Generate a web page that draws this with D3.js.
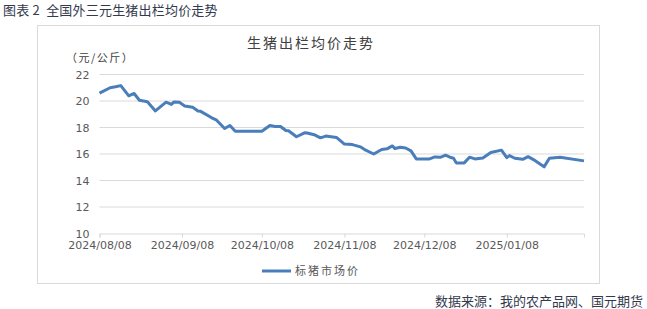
<!DOCTYPE html>
<html>
<head>
<meta charset="utf-8">
<script src="https://cdn.jsdelivr.net/npm/d3@7"></script>
<style>
  body { margin: 0; background: #fff; }
  svg { display: block; }
</style>
</head>
<body>
<svg id="chart" width="647" height="309"></svg>
<script>
// 标猪市场价 (元/公斤)
let dates = ["2024-08-08","2024-08-12","2024-08-14","2024-08-16","2024-08-19","2024-08-21","2024-08-23","2024-08-26","2024-08-29",
  "2024-09-02","2024-09-04","2024-09-05","2024-09-07","2024-09-09","2024-09-12","2024-09-14","2024-09-15","2024-09-19","2024-09-21",
  "2024-09-24","2024-09-26","2024-09-28","2024-10-08","2024-10-11","2024-10-13","2024-10-15","2024-10-17","2024-10-18","2024-10-19",
  "2024-10-21","2024-10-24","2024-10-25","2024-10-28","2024-10-30","2024-11-01","2024-11-05","2024-11-08","2024-11-11","2024-11-14",
  "2024-11-16","2024-11-19","2024-11-22","2024-11-24","2024-11-26","2024-11-27","2024-11-29","2024-12-01","2024-12-03","2024-12-05",
  "2024-12-10","2024-12-12","2024-12-14","2024-12-16","2024-12-18","2024-12-19","2024-12-20","2024-12-23","2024-12-25","2024-12-27",
  "2024-12-30","2025-01-02","2025-01-06","2025-01-08","2025-01-09","2025-01-11","2025-01-14","2025-01-16","2025-01-18","2025-01-22",
  "2025-01-24","2025-01-28","2025-02-06"]
let prices = [20.6,21.0,21.07,21.16,20.39,20.57,20.06,19.95,19.25,
  19.91,19.74,19.93,19.9,19.63,19.53,19.25,19.22,18.75,18.55,
  17.92,18.15,17.72,17.72,18.15,18.08,18.08,17.77,17.75,17.6,
  17.3,17.6,17.58,17.43,17.22,17.35,17.25,16.75,16.71,16.54,
  16.29,16.0,16.34,16.39,16.61,16.41,16.51,16.45,16.24,15.63,
  15.63,15.78,15.75,15.91,15.73,15.68,15.33,15.33,15.76,15.63,
  15.7,16.11,16.29,15.73,15.88,15.68,15.6,15.8,15.58,15.03,
  15.68,15.76,15.48]
let x_ticks = ["2024-08-08","2024-09-08","2024-10-08","2024-11-08","2024-12-08","2025-01-08"]
let y_ticks = [10,12,14,16,18,20,22]

let parse = d3.timeParse("%Y-%m-%d")
let data = dates.map((d, i) => ({date: parse(d), value: prices[i]}))

let svg = d3.select("#chart")
let cjk = "'Noto Sans CJK SC', sans-serif"

let plot_left = 99.5, plot_right = 584, plot_top = 74.5, plot_bottom = 233.5

let x_scale = d3.scaleTime([parse("2024-08-08"), parse("2025-02-06")], [plot_left, plot_right])
let y_scale = d3.scaleLinear([10, 22], [plot_bottom, plot_top])

// header + chart frame
svg.append("text")
  .attr("x", 3).attr("y", 15)
  .attr("font-family", cjk).attr("font-size", 13).attr("fill", "#333a4d")
  .attr("xml:space", "preserve").attr("letter-spacing", 0.2)
  .text("图表 2  全国外三元生猪出栏均价走势")

svg.append("rect")
  .attr("x", 37.5).attr("y", 25.5).attr("width", 562).attr("height", 258)
  .attr("fill", "#fff").attr("stroke", "#d9d9d9")

svg.append("text")
  .attr("x", 311).attr("y", 48)
  .attr("text-anchor", "middle")
  .attr("font-family", cjk).attr("font-size", 14).attr("letter-spacing", 2).attr("fill", "#404040")
  .text("生猪出栏均价走势")

svg.append("text")
  .attr("x", 66).attr("y", 62)
  .attr("font-family", cjk).attr("font-size", 11).attr("letter-spacing", 1.5).attr("fill", "#404040")
  .text("（元/公斤）")

// gridlines
svg.append("g").selectAll("line")
  .data(y_ticks.slice(1))
  .join("line")
  .attr("x1", plot_left).attr("x2", plot_right)
  .attr("y1", d => y_scale(d)).attr("y2", d => y_scale(d))
  .attr("stroke", "#d9d9d9")

// y axis (labels only)
let gy = svg.append("g")
  .attr("transform", `translate(${plot_left},0)`)
  .call(d3.axisLeft(y_scale).tickValues(y_ticks).tickSize(0).tickPadding(10))
gy.select(".domain").remove()
gy.selectAll("text").attr("font-family", "'DejaVu Sans', sans-serif").attr("font-size", 11).attr("fill", "#595959")

// x axis
let gx = svg.append("g")
  .attr("transform", `translate(0,${plot_bottom})`)
  .call(d3.axisBottom(x_scale).tickValues(x_ticks.map(parse)).tickFormat(d3.timeFormat("%Y/%m/%d")).tickSizeOuter(0).tickSize(4).tickPadding(4))
gx.select(".domain").attr("stroke", "#d9d9d9")
gx.selectAll(".tick line").attr("stroke", "#d9d9d9")
gx.selectAll("text").attr("font-family", "'DejaVu Sans', sans-serif").attr("font-size", 11).attr("fill", "#595959")

// price line
let line = d3.line().x(d => x_scale(d.date)).y(d => y_scale(d.value))
svg.append("path")
  .datum(data)
  .attr("d", line)
  .attr("fill", "none")
  .attr("stroke", "#4a7ebb")
  .attr("stroke-width", 3)
  .attr("stroke-linejoin", "round")

// legend
svg.append("line")
  .attr("x1", 262).attr("x2", 291).attr("y1", 271).attr("y2", 271)
  .attr("stroke", "#4a7ebb").attr("stroke-width", 3)
svg.append("text")
  .attr("x", 295).attr("y", 275)
  .attr("font-family", cjk).attr("font-size", 11).attr("letter-spacing", 2).attr("fill", "#595959")
  .text("标猪市场价")

// source
svg.append("text")
  .attr("x", 643).attr("y", 306)
  .attr("text-anchor", "end")
  .attr("font-family", cjk).attr("font-size", 13).attr("fill", "#333a4d")
  .text("数据来源：我的农产品网、国元期货")
</script>
</body>
</html>
